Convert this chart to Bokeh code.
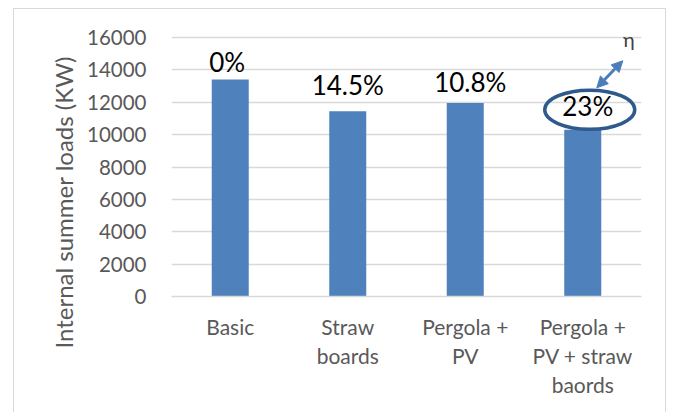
import math
from bokeh.plotting import figure
from bokeh.models import (Range1d, SingleIntervalTicker, Label, Arrow, NormalHead,
                          ColumnDataSource, LinearAxis, Title, FixedTicker)
from bokeh.core.properties import value
from bokeh.embed import file_html
from bokeh.resources import INLINE

# ---- data ----
categories = ["Basic", "Straw boards", "Pergola + PV", "Pergola + PV + straw baords"]
tick_labels = ["Basic", "Straw\nboards", "Pergola +\nPV", "Pergola +\nPV + straw\nbaords"]
loads = [13400, 11450, 11950, 10300]
reductions = ["0%", "14.5%", "10.8%", "23%"]
y_ticks_interval = 2000
y_max = 16000
y_title = "Internal summer loads (KW)"

FONT = "Lato"
FRAME_W, FRAME_H = 470, 259          # frame height covering 0..y_max
HEADROOM = 20                         # extra px above y_max (room for the eta label)
ncat = len(categories)
px_per_cat = FRAME_W / ncat
px_per_unit = FRAME_H / y_max
xpos = [i + 0.5 for i in range(ncat)]   # category centres on a 0..ncat axis

p = figure(
    x_range=Range1d(0, ncat),
    y_range=Range1d(0, y_max + HEADROOM / px_per_unit),
    frame_width=FRAME_W,
    frame_height=FRAME_H + HEADROOM,
    min_border_left=157,
    min_border_right=24,
    min_border_top=28 - HEADROOM,
    min_border_bottom=116,
    output_backend="svg",
    toolbar_location=None,
)
p.margin = (8, 0, 0, 13)
p.styles = {"border": "1px solid #D9D9D9"}
p.outline_line_color = None
p.background_fill_color = "white"
p.border_fill_color = "white"

# bars
p.vbar(x=xpos, top=loads, width=0.315, fill_color="#4F81BD", line_color=None)

# grid
p.xgrid.grid_line_color = None
p.ygrid.grid_line_color = "#D9D9D9"
p.ygrid.grid_line_width = 1.5

# y axis
p.yaxis.ticker = SingleIntervalTicker(interval=y_ticks_interval)
p.yaxis.axis_line_color = None
p.yaxis.major_tick_line_color = None
p.yaxis.minor_tick_line_color = None
p.yaxis.major_tick_out = 0
p.yaxis.major_label_standoff = 21
p.yaxis.major_label_text_font = FONT
p.yaxis.major_label_text_font_size = "20.5px"
p.yaxis.major_label_text_color = "#595959"

# y axis title (side title so it can be shifted along the axis)
p.add_layout(Title(text=y_title, align="left", offset=-52, text_font=FONT,
                   text_font_size="24px", text_font_style="normal",
                   text_color="#595959", standoff=14), "left")

# x axis: one stacked axis per text line of the category labels
lines = [t.split("\n") for t in tick_labels]
nlines = max(len(l) for l in lines)
for k in range(nlines):
    ticks = [xpos[i] for i, l in enumerate(lines) if k < len(l)]
    overrides = {xpos[i]: l[k] for i, l in enumerate(lines) if k < len(l)}
    if k == 0:
        ax = p.xaxis[0]
        ax.axis_line_color = "#D9D9D9"
        ax.axis_line_width = 1.5
        ax.major_label_standoff = 17
    else:
        ax = LinearAxis()
        ax.axis_line_color = None
        ax.major_label_standoff = 1
        p.add_layout(ax, "below")
    ax.ticker = FixedTicker(ticks=ticks)
    ax.major_label_overrides = overrides
    ax.major_tick_line_color = None
    ax.minor_tick_line_color = None
    ax.major_tick_out = 0
    ax.major_tick_in = 0
    ax.minor_tick_out = 0
    ax.minor_tick_in = 0
    ax.major_label_text_font = FONT
    ax.major_label_text_font_size = "21px"
    ax.major_label_text_color = "#595959"

# percentage labels (pixel nudges converted to data units)
dx_px = [-3, 0, 5, 5]
dy_px = [18, 26, 21, 24]
src = ColumnDataSource(dict(
    x=[x + dx / px_per_cat for x, dx in zip(xpos, dx_px)],
    y=[v + dy / px_per_unit for v, dy in zip(loads, dy_px)],
    lab=reductions))
p.text(x="x", y="y", text="lab", source=src,
       text_align="center", text_baseline="alphabetic",
       text_font=value(FONT), text_font_size="26px", text_color="black")

# ellipse around last label
last = ncat - 1
ex = xpos[last] + 7 / px_per_cat
ey = loads[last] + 20 / px_per_unit
p.ellipse(x=[ex], y=[ey], width=90, height=39, width_units="screen", height_units="screen",
          fill_color=None, line_color="#2F5A8C", line_width=3.5)

# double-headed arrow
ax0 = xpos[last] + 14 / px_per_cat
ay0 = loads[last] + 42 / px_per_unit
ax1 = xpos[last] + 40 / px_per_cat
ay1 = loads[last] + 69 / px_per_unit
p.add_layout(Arrow(x_start=ax0, y_start=ay0, x_end=ax1, y_end=ay1,
                   line_color="#4A7EBB", line_width=3,
                   start=NormalHead(size=11, fill_color="#4A7EBB", line_color="#4A7EBB"),
                   end=NormalHead(size=11, fill_color="#4A7EBB", line_color="#4A7EBB")))

# eta
p.add_layout(Label(x=xpos[last] + 46 / px_per_cat, y=loads[last] + 91 / px_per_unit, text="η",
                   text_align="center", text_baseline="middle",
                   text_font=FONT, text_font_size="20px", text_color="#404040"))

open("out.html", "w").write(file_html(p, INLINE))
